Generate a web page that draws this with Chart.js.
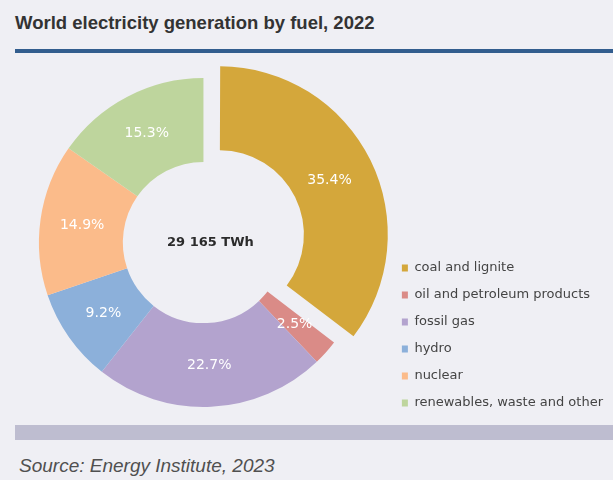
<!DOCTYPE html>
<html>
<head>
<meta charset="utf-8">
<script src="https://cdn.jsdelivr.net/npm/chart.js@4/dist/chart.umd.min.js"></script>
<style>
  html, body { margin: 0; padding: 0; }
  body { width: 613px; height: 480px; background: #efeff4; position: relative; overflow: hidden; }
  #title { position: absolute; left: 15px; top: 13px; font: bold 18.5px/19px "Liberation Sans", Arial, sans-serif; color: #333; white-space: nowrap; }
  #rule { position: absolute; left: 15px; right: 0; top: 49px; height: 4px; background: #325d8e; }
  #bar { position: absolute; left: 15px; right: 0; top: 425px; height: 15px; background: #bebdd0; }
  #source { position: absolute; left: 19px; top: 456px; font: italic 19px/19px "Liberation Sans", Arial, sans-serif; color: #505050; white-space: nowrap; }
  #chart { position: absolute; left: 0; top: 0; }
</style>
</head>
<body>
<div id="title">World electricity generation by fuel, 2022</div>
<div id="rule"></div>
<div id="bar"></div>
<div id="source">Source: Energy Institute, 2023</div>
<canvas id="chart" width="613" height="480"></canvas>
<script>
// shares of world generation, %
const fuels = ["coal and lignite", "oil and petroleum products", "fossil gas", "hydro", "nuclear", "renewables, waste and other"];
const shares = [35.4, 2.5, 22.7, 9.2, 14.9, 15.3];
const colors = ["#d4a73b", "#da8b87", "#b3a3ce", "#8cb0da", "#fbbb8a", "#bed59d"];
const offsets = [72, 0, 0, 0, 0, 0];
const totalLabel = "29 165 TWh";

// percent labels on the ring + total in the hole
const ringLabels = {
  id: "ringLabels",
  afterDatasetsDraw(chart) {
    const ctx = chart.ctx;
    const meta = chart.getDatasetMeta(0);
    ctx.save();
    ctx.textAlign = "center";
    ctx.textBaseline = "middle";
    ctx.fillStyle = "#ffffff";
    ctx.font = "14px 'DejaVu Sans'";
    meta.data.forEach((arc, i) => {
      const p = arc.getProps(["x", "y", "startAngle", "endAngle", "innerRadius", "outerRadius"]);
      const mid = (p.startAngle + p.endAngle) / 2;
      const r = (p.innerRadius + p.outerRadius) / 2 + offsets[i] / 4;
      ctx.fillText(shares[i].toFixed(1) + "%", p.x + Math.cos(mid) * r, p.y + Math.sin(mid) * r);
    });
    const a = meta.data[0];
    ctx.fillStyle = "#2b2b2b";
    ctx.font = "bold 13px 'DejaVu Sans'";
    ctx.fillText(totalLabel, a.x + 7, a.y);
    ctx.restore();
  }
};

new Chart(document.getElementById("chart"), {
  type: "doughnut",
  data: {
    labels: fuels,
    datasets: [{
      data: shares,
      backgroundColor: colors,
      borderWidth: 0,
      offset: offsets,
      hoverOffset: 0
    }]
  },
  options: {
    responsive: false,
    animation: false,
    events: [],
    radius: 164.5,
    cutout: "49%",
    layout: { padding: { left: 19, right: 0, top: 61.5, bottom: 56.5 } },
    plugins: {
      legend: {
        position: "right",
        align: "end",
        labels: {
          boxWidth: 6,
          boxHeight: 7,
          padding: 14,
          color: "#444",
          font: { family: "'DejaVu Sans'", size: 13 }
        }
      },
      tooltip: { enabled: false }
    }
  },
  plugins: [ringLabels]
});
</script>
</body>
</html>
